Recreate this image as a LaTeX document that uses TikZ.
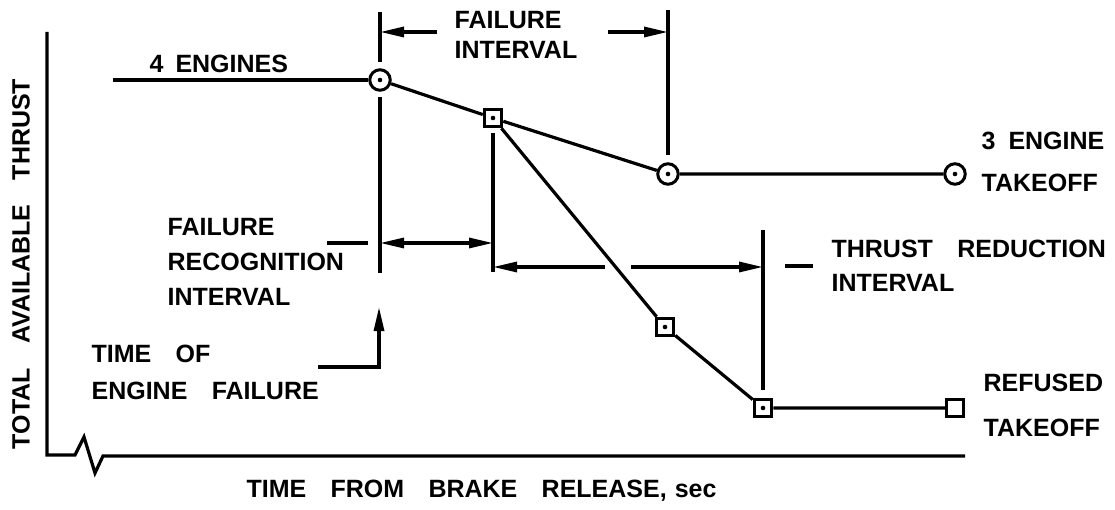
\documentclass[tikz,border=0pt]{standalone}
\usepackage{fontspec}
\setmainfont{Liberation Sans}[WordSpace=3.5]
\usetikzlibrary{arrows.meta}
\newcommand\lblfont[1]{\bfseries\fontsize{25}{#1}\selectfont}
\begin{document}
\begin{tikzpicture}[x=1pt,y=-1pt,
  line width=3.2pt,
  every path/.style={line cap=butt,line join=miter},
  circmark/.style={circle,draw,line width=3pt,minimum size=20.5pt,inner sep=0pt,fill=white},
  sqmark/.style={rectangle,draw,line width=3pt,minimum size=17.5pt,inner sep=0pt,fill=white},
  lbl/.style={inner sep=0pt,align=left,anchor=north west},
  dimarrow/.style={-{Triangle[length=24pt,width=10pt]}},
  dimboth/.style={{Triangle[length=24pt,width=10pt]}-{Triangle[length=24pt,width=10pt]}}
]
\useasboundingbox (0,0) rectangle (1115,510);

% axes
\coordinate (ytop) at (47,32);
\coordinate (orig) at (47,455);
\coordinate (xend) at (965,456);
\draw (ytop) -- (orig) -- (75,455) -- (84,437) -- (95,473) -- (103,456) -- (xend);

% axis labels
\node[inner sep=0pt,rotate=90,font=\lblfont{30}] (ylab) at (21,264) {TOTAL AVAILABLE THRUST};
\node[lbl,font=\lblfont{30}] (xlab) at (245,478) {TIME FROM BRAKE RELEASE,\kern8pt{}sec};

% markers
\node[circmark] (A) at (380,80) {};
\node[sqmark]   (B) at (493,118) {};
\node[circmark] (C) at (668,174) {};
\node[circmark] (D) at (955,174) {};
\node[sqmark]   (G) at (665,327) {};
\node[sqmark]   (E) at (763,408) {};
\node[sqmark]   (F) at (955,408) {};
\coordinate (start) at (113,80);

% curves
\draw (start) -- (A.west);
\draw (A) -- (B) -- (C) -- (D);
\draw (B) -- (G) -- (E) -- (F);
\foreach \n in {A,B,C,D,G,E}{\fill (\n.center) circle (2.3pt);}

% failure interval
\coordinate (fa1) at (380,12);
\coordinate (fa2) at (380,62);
\coordinate (fb1) at (668,10);
\coordinate (fb2) at (668,155);
\draw (fa1) -- (fa2);
\draw (fb1) -- (fb2);
\coordinate (fil) at (437,32);
\coordinate (fir) at (608,32);
\draw[dimarrow] (fil) -- (fa1 |- fil);
\draw[dimarrow] (fir) -- (fb1 |- fir);
\node[lbl,font=\lblfont{30}] (filab) at (453,10) {FAILURE\\INTERVAL};

% failure recognition interval
\coordinate (ra1) at (380,97);
\coordinate (ra2) at (380,273);
\coordinate (rb1) at (493,133);
\coordinate (rb2) at (493,272);
\draw (ra1) -- (ra2);
\draw (rb1) -- (rb2);
\draw[dimboth] (380,243) -- (493,243);
\coordinate (rd1) at (327,243);
\coordinate (rd2) at (368,243);
\draw (rd1) -- (rd2);
\node[lbl,font=\lblfont{35}] (frilab) at (166,217) {FAILURE\\RECOGNITION\\INTERVAL};

% time of engine failure
\coordinate (tf0) at (318,367);
\coordinate (tf1) at (379,307);
\draw[dimarrow] (tf0) -| (tf1);
\node[lbl,font=\lblfont{37}] (tflab) at (90,343) {TIME OF\\ENGINE FAILURE};

% thrust reduction interval
\coordinate (ta1) at (763,230);
\coordinate (ta2) at (763,390);
\draw (ta1) -- (ta2);
\coordinate (tl) at (605,267);
\coordinate (tr) at (631,267);
\draw[dimarrow] (tl) -- (rb1 |- tl);
\draw[dimarrow] (tr) -- (ta1 |- tr);
\coordinate (td1) at (785,266);
\coordinate (td2) at (813,266);
\draw (td1) -- (td2);
\node[lbl,font=\lblfont{34}] (trlab) at (830,238) {THRUST REDUCTION\\INTERVAL};

% end labels
\node[lbl,font=\lblfont{30}] (fourlab) at (148,53) {4\kern12pt{}ENGINES};
\node[lbl,font=\lblfont{42}] (threelab) at (980,130) {3\kern13pt{}ENGINE\\TAKEOFF};
\node[lbl,font=\lblfont{45}] (reflab) at (982,372) {REFUSED\\TAKEOFF};
\end{tikzpicture}
\end{document}
